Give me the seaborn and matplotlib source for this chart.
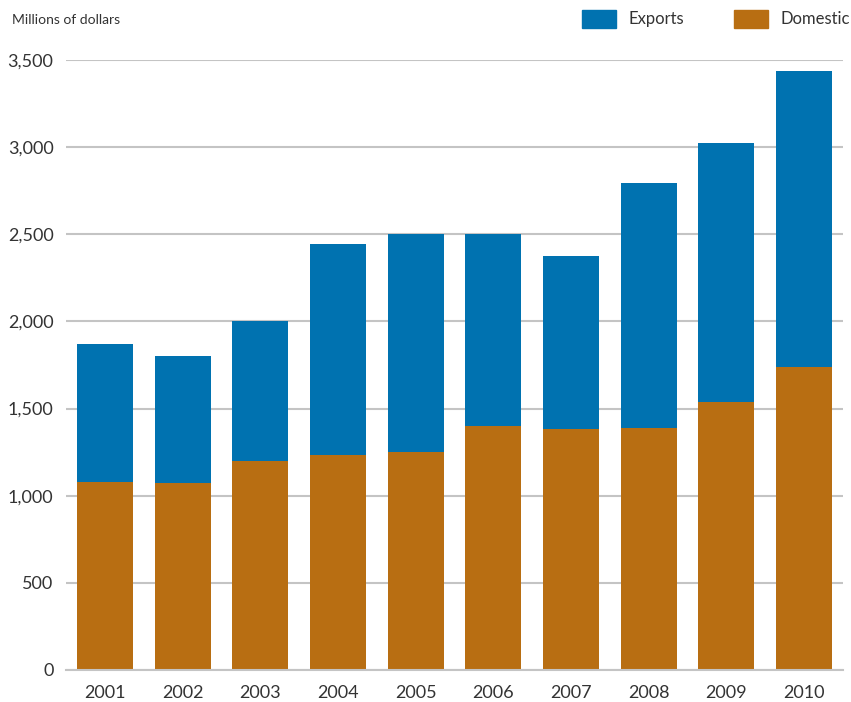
import matplotlib
matplotlib.use("Agg")
import matplotlib.pyplot as plt
from matplotlib.patches import Rectangle
import seaborn as sns
import pandas as pd

# DATA (millions of dollars)
years = ["2001", "2002", "2003", "2004", "2005", "2006", "2007", "2008", "2009", "2010"]
total = [1870, 1800, 2000, 2445, 2500, 2500, 2375, 2795, 3025, 3435]
domestic = [1080, 1073, 1200, 1233, 1252, 1400, 1383, 1390, 1540, 1740]
series_names = ["Exports", "Domestic"]

blue = "#0072b0"
orange = "#b86e12"
grid_gray = "#c4c4c4"
text_gray = "#333333"

sns.set_theme(style="white")
plt.rcParams["font.family"] = ["Lato", "DejaVu Sans"]

df = pd.DataFrame({"year": years, "total": total, "domestic": domestic})

fig = plt.figure(figsize=(8.51, 7.02), dpi=100)
ax = fig.add_axes([66 / 851, 32 / 702, 777 / 851, 610 / 702])

# stacked look: total in blue, domestic drawn over it
sns.barplot(data=df, x="year", y="total", color=blue, width=0.72,
            saturation=1, linewidth=0, ax=ax, zorder=3)
sns.barplot(data=df, x="year", y="domestic", color=orange, width=0.72,
            saturation=1, linewidth=0, ax=ax, zorder=4)

ax.set_xlim(-0.5, 9.5)
ax.set_ylim(0, 3500)
ax.set_yticks(range(0, 3501, 500))
ax.set_yticklabels([f"{v:,}" for v in range(0, 3501, 500)])
ax.yaxis.grid(True, color=grid_gray, linewidth=1.5, zorder=0)
ax.set_axisbelow(True)
ax.set_xlabel("")
ax.set_ylabel("")
for s in ["top", "right", "left"]:
    ax.spines[s].set_visible(False)
ax.spines["bottom"].set_color(grid_gray)
ax.spines["bottom"].set_linewidth(1.5)
ax.spines["bottom"].set_zorder(5)
ax.tick_params(axis="both", length=0, labelsize=13, colors=text_gray)
ax.tick_params(axis="y", pad=9)
ax.tick_params(axis="x", pad=11)

fig.text(12 / 851, 1 - 20 / 702, "Millions of dollars", fontsize=10,
         color=text_gray, va="center", ha="left")

# legend drawn as patches + text in figure coords
for name, col, x0 in zip(series_names, [blue, orange], [582, 734]):
    fig.patches.append(Rectangle((x0 / 851, 1 - 28 / 702), 34 / 851, 18 / 702,
                                 color=col, transform=fig.transFigure, figure=fig))
    fig.text((x0 + 46) / 851, 1 - 19 / 702, name, fontsize=12,
             color=text_gray, va="center", ha="left")

fig.savefig("out.png", dpi=100)
